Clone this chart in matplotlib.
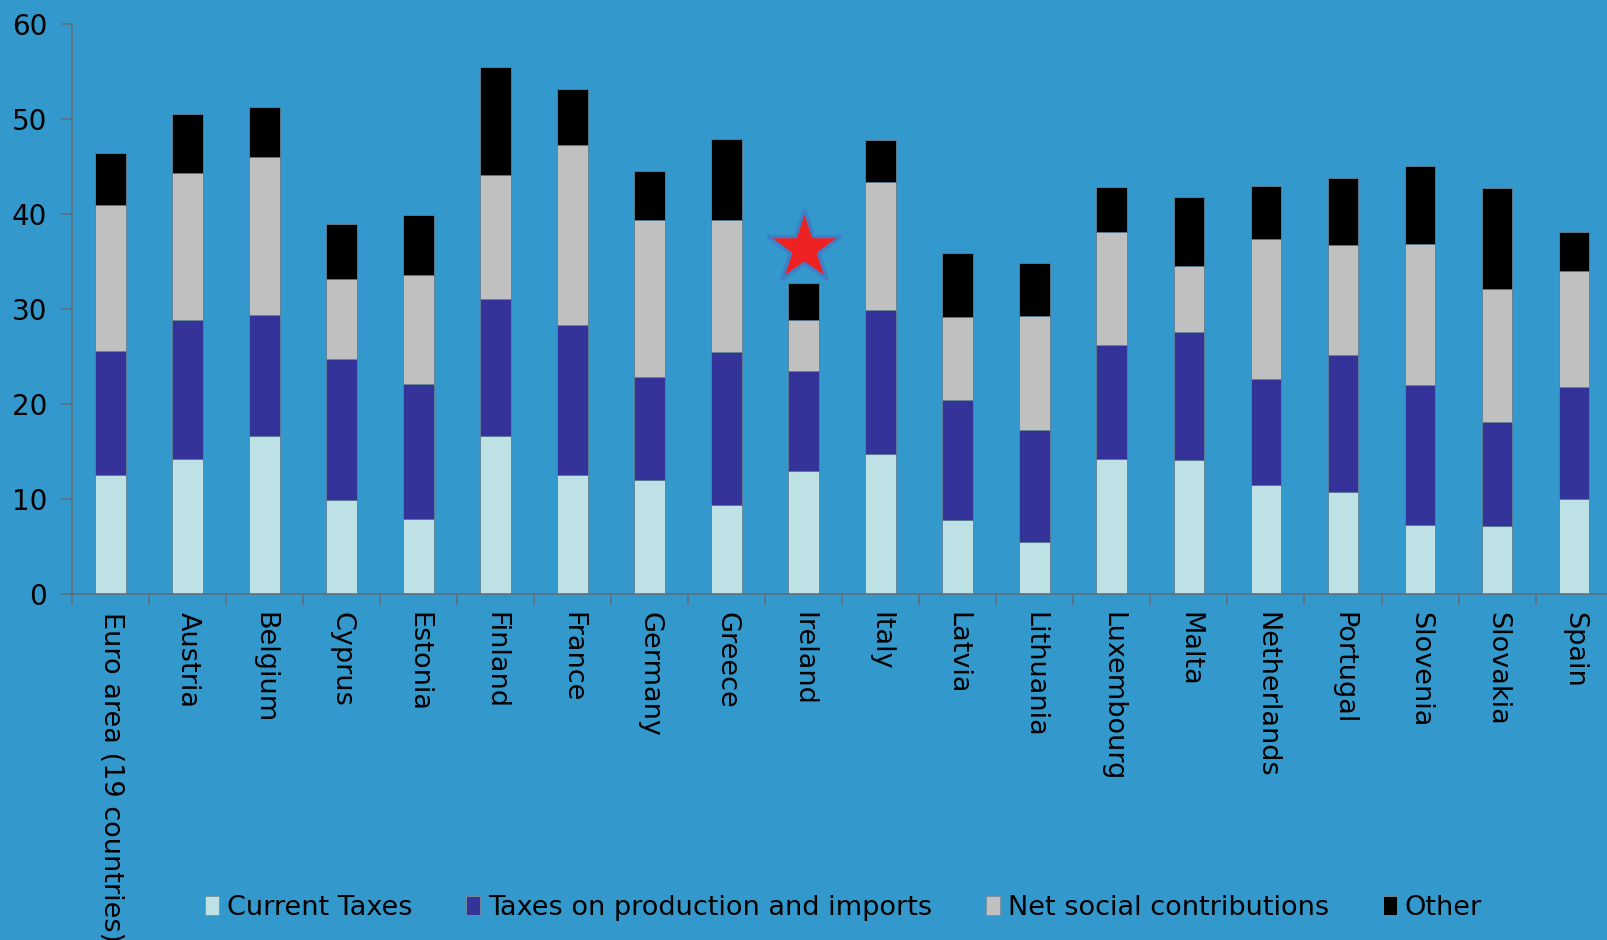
import matplotlib
matplotlib.use("Agg")
import matplotlib.pyplot as plt
import numpy as np
from matplotlib.patches import Patch

countries = ["Euro area (19 countries)", "Austria", "Belgium", "Cyprus", "Estonia",
             "Finland", "France", "Germany", "Greece", "Ireland", "Italy", "Latvia",
             "Lithuania", "Luxembourg", "Malta", "Netherlands", "Portugal", "Slovenia",
             "Slovakia", "Spain"]

current_taxes = [12.6, 14.2, 16.6, 9.9, 7.9, 16.7, 12.5, 12.0, 9.4, 13.0,
                 14.8, 7.8, 5.5, 14.2, 14.1, 11.5, 10.8, 7.3, 7.2, 10.0]
taxes_production = [13.0, 14.6, 12.8, 14.8, 14.2, 14.4, 15.8, 10.8, 16.1, 10.5,
                    15.1, 12.6, 11.8, 12.0, 13.5, 11.1, 14.4, 14.7, 10.9, 11.8]
net_social = [15.3, 15.5, 16.6, 8.5, 11.5, 13.0, 18.9, 16.6, 13.9, 5.3,
              13.4, 8.8, 12.0, 11.9, 6.9, 14.8, 11.5, 14.8, 14.0, 12.2]
other = [5.5, 6.2, 5.2, 5.7, 6.3, 11.3, 5.9, 5.1, 8.5, 3.9,
         4.5, 6.7, 5.5, 4.7, 7.3, 5.5, 7.1, 8.2, 10.6, 4.1]

series_names = ["Current Taxes", "Taxes on production and imports",
                "Net social contributions", "Other"]
colors = ["#BDE1E4", "#333399", "#C0C0C0", "#000000"]

star_country = "Ireland"
star_value = 36.4

bg = "#3399CC"
W, H = 1607, 940
fig = plt.figure(figsize=(W / 100, H / 100), dpi=100, facecolor=bg)
ax_left, ax_w = 72 / W, 1540.6 / W
ax_bottom, ax_top = 1 - 594.4 / H, 1 - 23.6 / H
ax = fig.add_axes([ax_left, ax_bottom, ax_w, ax_top - ax_bottom])
ax.set_facecolor(bg)

x = np.arange(len(countries))
bottom = np.zeros(len(countries))
for vals, c in zip([current_taxes, taxes_production, net_social, other], colors):
    ax.bar(x, vals, width=0.4, bottom=bottom, color=c, edgecolor="#5f7f95", linewidth=0.6, zorder=2)
    bottom += np.array(vals)

ax.plot([countries.index(star_country)], [star_value], marker="*", markersize=56,
        color="#EE2222", markeredgecolor="#3f7fc8", markeredgewidth=2.5, zorder=3, clip_on=False)

ax.set_xlim(-0.5, len(countries) - 0.5)
ax.set_ylim(0, 60)
ax.set_yticks(range(0, 61, 10))
ax.set_xticks(x)
ax.set_xticklabels(countries, rotation=270, ha="center", va="top", fontsize=19.5, color="black")
ax.set_xticks(np.arange(-0.5, len(countries), 1), minor=True)
ax.tick_params(axis="x", which="major", length=0, pad=13)
ax.tick_params(axis="x", which="minor", length=8, width=1.2, color="#5f7080", direction="out")
ax.tick_params(axis="y", length=8, width=1.2, color="#5f7080", labelsize=20, pad=10, labelcolor="black")
for s in ["top", "right"]:
    ax.spines[s].set_visible(False)
for s in ["left", "bottom"]:
    ax.spines[s].set_color("#5f7080")
    ax.spines[s].set_linewidth(1.2)

handles = [Patch(facecolor=c, edgecolor="#7f8f9a", linewidth=0.6) for c in colors]
fig.legend(handles, series_names, loc="center left", bbox_to_anchor=(205 / W, 1 - 908 / H),
           ncol=4, frameon=False, fontsize=19.5, handlelength=0.5, handleheight=0.75,
           handletextpad=0.3, columnspacing=2.0, borderaxespad=0, borderpad=0)

fig.savefig("out.png", dpi=100, facecolor=bg)
